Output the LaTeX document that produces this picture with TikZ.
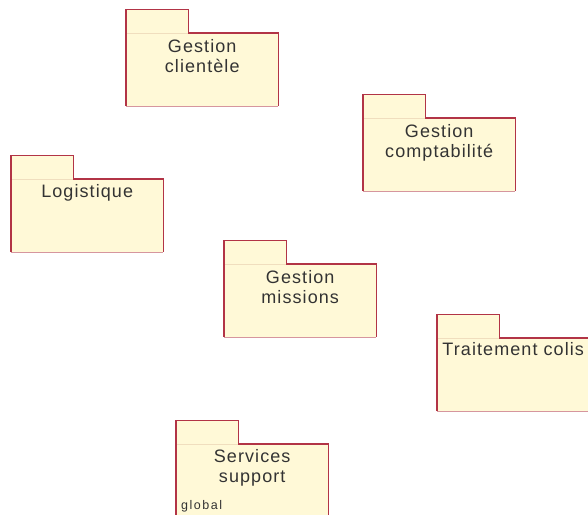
\documentclass[tikz,border=0pt]{standalone}
\usepackage{fontspec}
\setmainfont{Liberation Sans}
\newfontfamily\pkgfont{Liberation Sans}[LetterSpace=6]
\newfontfamily\pkgsmallfont{Liberation Sans}[LetterSpace=12]
\definecolor{pkgfill}{RGB}{255,249,215}
\definecolor{pkgline}{RGB}{178,52,70}
\definecolor{pkgshade}{RGB}{214,150,158}
\definecolor{pkgsep}{RGB}{240,222,190}
\definecolor{pkgtextc}{RGB}{51,51,51}
\tikzset{
  pkgbody/.style={rectangle, fill=pkgfill, draw=none, inner sep=0pt,
    minimum width=152pt, minimum height=73pt, anchor=north west},
  pkgtab/.style={rectangle, fill=pkgfill, draw=none, inner sep=0pt,
    minimum width=62pt, minimum height=23pt, anchor=south west},
  pkgtext/.style={text=pkgtextc, align=center, inner sep=0pt, anchor=base,
    font=\pkgfont\fontsize{18}{20}\selectfont},
  pkgnote/.style={text=pkgtextc, inner sep=0pt, anchor=base west,
    font=\pkgsmallfont\fontsize{12.5}{14}\selectfont},
  pkgedge/.style={draw=pkgline, line width=1.1pt},
  pkgsoft/.style={draw=pkgshade, line width=1.1pt},
  pkgdiv/.style={draw=pkgsep, line width=0.8pt},
}
% outline of a package: tab on top of the body
\newcommand{\pkgoutline}[2]{%
  \path[pkgdiv] (#2.south west) -- (#2.south east);
  \path[pkgedge] (#2.south west) -- (#2.north west) -- (#2.north east)
    -- (#2.south east) -- (#1.north east) -- (#1.south east);
  \path[pkgedge] (#1.north west) -- (#1.south west);
  \path[pkgsoft] (#1.south west) -- (#1.south east);
}
\begin{document}
\begin{tikzpicture}[x=1pt,y=-1pt]
\clip (0,0) rectangle (588,514);
\fill[white] (0,0) rectangle (588,514);

% Gestion clientele (anchor base = baseline of the last line)
\node[pkgbody] (cli) at (126,33) {};
\node[pkgtab] (clit) at (cli.north west) {};
\pkgoutline{cli}{clit}
\node[pkgtext] (clil) at ([yshift=-39pt]cli.north) {Gestion\\clientèle};

% Gestion comptabilite
\node[pkgbody] (cpt) at (363,118) {};
\node[pkgtab] (cptt) at (cpt.north west) {};
\pkgoutline{cpt}{cptt}
\node[pkgtext] (cptl) at ([yshift=-39pt]cpt.north) {Gestion\\comptabilité};

% Logistique
\node[pkgbody] (log) at (11,179) {};
\node[pkgtab] (logt) at (log.north west) {};
\pkgoutline{log}{logt}
\node[pkgtext] (logl) at ([yshift=-18pt]log.north) {Logistique};

% Gestion missions
\node[pkgbody] (mis) at (224,264) {};
\node[pkgtab] (mist) at (mis.north west) {};
\pkgoutline{mis}{mist}
\node[pkgtext] (misl) at ([yshift=-39pt]mis.north) {Gestion\\missions};

% Traitement colis
\node[pkgbody] (col) at (437,338) {};
\node[pkgtab] (colt) at (col.north west) {};
\pkgoutline{col}{colt}
\node[pkgtext] (coll) at ([yshift=-17pt]col.north) {Traitement colis};

% Services support
\node[pkgbody] (sup) at (176,444) {};
\node[pkgtab] (supt) at (sup.north west) {};
\pkgoutline{sup}{supt}
\node[pkgtext] (supl) at ([yshift=-38pt]sup.north) {Services\\support};
\node[pkgnote] (supg) at (181,509) {global};
\end{tikzpicture}
\end{document}
